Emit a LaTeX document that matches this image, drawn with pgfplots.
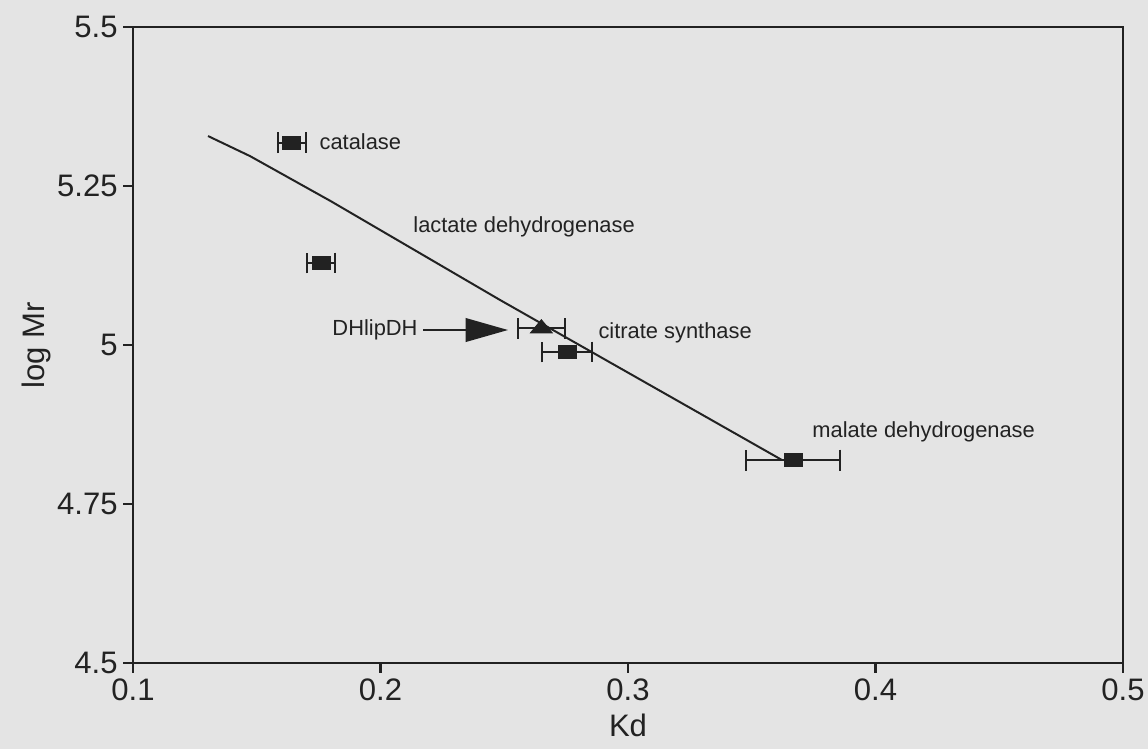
\documentclass[border=0pt]{standalone}
\usepackage{pgfplots}
\pgfplotsset{compat=1.18}
\usepackage{fontspec}
\setmainfont{Liberation Sans}
\usetikzlibrary{arrows.meta}
\definecolor{paper}{HTML}{E4E4E4}
\definecolor{ink}{HTML}{222222}
\begin{document}
\begin{tikzpicture}
\fill[paper] (-1.881,-1.216) rectangle (14.3535,9.376);
\begin{axis}[
  at={(0,0)}, anchor=south west,
  scale only axis, width=14cm, height=8.994cm,
  xmin=0.1, xmax=0.5, ymin=4.5, ymax=5.5,
  xtick={0.1,0.2,0.3,0.4,0.5},
  ytick={4.5,4.75,5,5.25,5.5},
  yticklabels={4.5,4.75,5,5.25,5.5},
  xticklabels={0.1,0.2,0.3,0.4,0.5},
  xtick pos=bottom, ytick pos=left,
  tick align=outside, major tick length=4pt,
  axis line style={ink, line width=1pt},
  every tick/.style={ink, line width=0.9pt},
  tick label style={font=\fontsize{12.5}{14}\selectfont, text=ink},
  xticklabel style={inner sep=1pt, yshift=-1pt},
  yticklabel style={inner sep=1pt, xshift=-1pt},
  label style={font=\fontsize{12.5}{14}\selectfont, text=ink},
  xlabel={Kd}, ylabel={log Mr},
  xlabel style={yshift=-1pt},
  ylabel style={yshift=-2pt},
  clip=false,
]
% fitted curve
\addplot[ink, line width=0.8pt, no marks] coordinates {
  (0.1303,5.3286) (0.1473,5.2970) (0.1800,5.2260) (0.2483,5.0708) (0.3622,4.8192)
};
% proteins (squares) with horizontal error bars
\addplot[ink, only marks, mark=square*, mark size=2.6pt,
  mark options={xscale=1.4, fill=ink, draw=ink},
  error bars/.cd, x dir=both, x explicit,
  error bar style={ink, line width=0.8pt},
  error mark options={rotate=90, mark size=4.2pt, line width=0.8pt, ink}]
  coordinates {
  (0.1642,5.318) +- (0.0055,0)
  (0.1760,5.129) +- (0.0057,0)
  (0.2754,4.989) +- (0.0100,0)
  (0.3667,4.819) +- (0.0190,0)
};
% DHlipDH (triangle)
\addplot[ink, only marks, mark=triangle*, mark size=5pt,
  mark options={yscale=0.7, fill=ink, draw=ink},
  error bars/.cd, x dir=both, x explicit,
  error bar style={ink, line width=0.8pt},
  error mark options={rotate=90, mark size=4.2pt, line width=0.8pt, ink}]
  coordinates {
  (0.2650,5.026) +- (0.0095,0)
};
\draw[ink, line width=0.7pt, -{Triangle[length=17pt, width=9.5pt]}]
  (axis cs:0.2172,5.0236) -- (axis cs:0.2515,5.0236);
\begin{scope}[every node/.style={font=\fontsize{8.8}{10}\selectfont, text=ink, inner sep=0pt, anchor=west}]
\node at (axis cs:0.1752,5.319) {catalase};
\node at (axis cs:0.2131,5.1855) {lactate dehydrogenase};
\node at (axis cs:0.2879,5.0189) {citrate synthase};
\node at (axis cs:0.3743,4.8632) {malate dehydrogenase};
\node at (axis cs:0.1804,5.024) {DHlipDH};
\end{scope}
\end{axis}
\pgfresetboundingbox
\path (-1.881,-1.216) rectangle (14.3535,9.376);
\end{tikzpicture}
\end{document}
